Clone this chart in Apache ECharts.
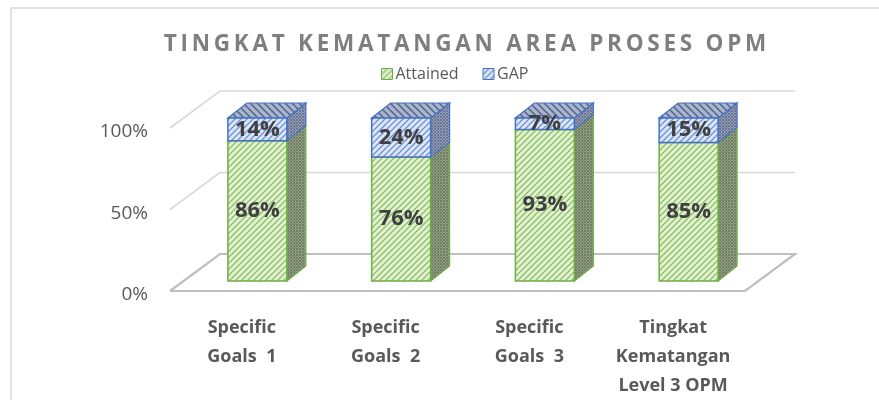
<!DOCTYPE html>
<html>
<head>
<meta charset="utf-8">
<script src="https://cdn.jsdelivr.net/npm/echarts@6/dist/echarts.min.js"></script>
<style>
  html, body { margin: 0; padding: 0; background: #fff; }
  #chart { width: 879px; height: 400px; }
</style>
</head>
<body>
<div id="chart"></div>
<script>
// data
var categories = ['Specific\nGoals  1', 'Specific\nGoals  2', 'Specific\nGoals  3', 'Tingkat\nKematangan\nLevel 3 OPM'];
var attained = [86, 76, 93, 85];
var gap = [14, 24, 7, 15];
var yTicks = [0, 50, 100];
var titleText = 'TINGKAT KEMATANGAN AREA PROSES OPM';

// 3d look
var WALL_DX = 50, WALL_DY = -37;   // depth of floor / back wall
var OFF_X = 15.5, OFF_Y = -10;     // front face of bars inside the depth
var BAR_DX = 19, BAR_DY = -15;     // depth of a bar

function hatch(bg, fg, step, lw, mode) {
  var c = document.createElement('canvas');
  c.width = c.height = step;
  var g = c.getContext('2d');
  g.fillStyle = bg;
  g.fillRect(0, 0, step, step);
  g.strokeStyle = fg;
  g.lineWidth = lw;
  function line(x0, y0, x1, y1) { g.beginPath(); g.moveTo(x0, y0); g.lineTo(x1, y1); g.stroke(); }
  if (mode.indexOf('/') >= 0) {
    line(0, step, step, 0); line(-1, 1, 1, -1); line(step - 1, step + 1, step + 1, step - 1);
  }
  if (mode.indexOf('\\') >= 0) {
    line(0, 0, step, step); line(-1, step - 1, 1, step + 1); line(step - 1, -1, step + 1, 1);
  }
  return { image: c, repeat: 'repeat' };
}

var greenFront = hatch('#e3f1d3', '#8cc167', 6, 1.3, '/');
var greenSide = hatch('#939f86', '#6f8060', 3, 1, '/\\');
var blueFront = hatch('#dee7f7', '#6e92d4', 6, 1.3, '/');
var blueSide = hatch('#939cb4', '#6a7696', 3, 1, '/\\');
var blueTop = hatch('#aab5cb', '#50648e', 7, 1.5, '\\');

function barItem(front, side, top, border, isTop) {
  return function (params, api) {
    var i = api.value(0), v = api.value(1), base = api.value(2);
    var bw = api.size([1, 0])[0];
    var w = bw * 0.41;
    var c0 = api.coord([i, base]);
    var c1 = api.coord([i, base + v]);
    var x0 = c0[0] + OFF_X - w / 2, x1 = x0 + w;
    var yb = c0[1] + OFF_Y, yt = c1[1] + OFF_Y;
    var kids = [
      {
        type: 'polygon',
        shape: { points: [[x1, yb], [x1 + BAR_DX, yb + BAR_DY], [x1 + BAR_DX, yt + BAR_DY], [x1, yt]] },
        style: { fill: side, stroke: border, lineWidth: 1.2 }
      }
    ];
    if (isTop) {
      kids.push({
        type: 'polygon',
        shape: { points: [[x0, yt], [x1, yt], [x1 + BAR_DX, yt + BAR_DY], [x0 + BAR_DX, yt + BAR_DY]] },
        style: { fill: top, stroke: border, lineWidth: 1.2 }
      });
    }
    kids.push({
      type: 'rect',
      shape: { x: x0, y: yt, width: w, height: yb - yt },
      style: { fill: front, stroke: border, lineWidth: 1.5 },
      textContent: {
        style: {
          text: v + '%', fill: '#404040',
          fontSize: 22, fontWeight: 'bold', fontFamily: '"Open Sans"'
        }
      },
      textConfig: { position: 'inside' }
    });
    return { type: 'group', children: kids };
  };
}

var myChart = echarts.init(document.getElementById('chart'));

var option = {
  backgroundColor: '#ffffff',
  animation: false,
  title: {
    text: titleText.split('').join('\u2009'),
    left: 460,
    textAlign: 'center',
    top: 28,
    textStyle: { color: '#7f7f7f', fontSize: 22.5, fontWeight: 'bold', fontFamily: '"Open Sans"' }
  },
  legend: {
    left: 376,
    top: 61,
    itemWidth: 11,
    itemHeight: 11,
    itemGap: 24,
    icon: 'rect',
    textStyle: { color: '#595959', fontSize: 16, fontFamily: '"Open Sans"', padding: [0, 0, 0, -2] },
    data: [
      { name: 'Attained', itemStyle: { color: greenFront, borderColor: '#70ad47', borderWidth: 1 } },
      { name: 'GAP', itemStyle: { color: blueFront, borderColor: '#4472c4', borderWidth: 1 } }
    ]
  },
  graphic: [
    {
      type: 'rect', z: -10, silent: true,
      shape: { x: 11, y: 8, width: 900, height: 500 },
      style: { fill: 'none', stroke: '#d9d9d9', lineWidth: 1.5 }
    }
  ],
  grid: { left: 170, right: 134, top: 128, bottom: 108 },
  xAxis: {
    type: 'category',
    data: categories,
    axisLine: { show: false },
    axisTick: { show: false },
    axisLabel: {
      margin: 22, color: '#595959', fontSize: 18, fontWeight: 'bold',
      fontFamily: '"Open Sans"', lineHeight: 29, interval: 0
    }
  },
  yAxis: {
    type: 'value',
    min: 0,
    max: 100,
    interval: 50,
    axisLine: { show: false },
    axisTick: { show: false },
    splitLine: { show: false },
    axisLabel: {
      margin: 22, color: '#595959', fontSize: 19, fontFamily: '"Open Sans"',
      formatter: '{value}%', verticalAlign: 'top', lineHeight: 8
    }
  },
  series: [
    {
      name: 'grid3d',
      type: 'custom',
      silent: true,
      clip: false,
      z: 1,
      data: yTicks.map(function (t) { return [0, t]; }),
      renderItem: function (params, api) {
        var cs = params.coordSys;
        var y = api.coord([0, api.value(1)])[1];
        var x0 = cs.x, x1 = cs.x + cs.width;
        if (api.value(1) === 0) {
          return {
            type: 'polyline',
            shape: { points: [[x0, y], [x1, y], [x1 + WALL_DX, y + WALL_DY], [x0 + WALL_DX, y + WALL_DY], [x0, y]] },
            style: { stroke: '#bfbfbf', lineWidth: 2.2, fill: null }
          };
        }
        return {
          type: 'polyline',
          shape: { points: [[x0, y], [x0 + WALL_DX, y + WALL_DY], [x1 + WALL_DX, y + WALL_DY]] },
          style: { stroke: '#d9d9d9', lineWidth: 1.6, fill: null }
        };
      }
    },
    {
      name: 'Attained',
      type: 'custom',
      clip: false,
      z: 2,
      itemStyle: { color: '#a9d18e' },
      data: attained.map(function (v, i) { return [i, v, 0]; }),
      renderItem: barItem(greenFront, greenSide, null, '#70ad47', false)
    },
    {
      name: 'GAP',
      type: 'custom',
      clip: false,
      z: 3,
      itemStyle: { color: '#8faadc' },
      data: gap.map(function (v, i) { return [i, v, attained[i]]; }),
      renderItem: barItem(blueFront, blueSide, blueTop, '#4472c4', true)
    }
  ]
};

myChart.setOption(option);
</script>
</body>
</html>
